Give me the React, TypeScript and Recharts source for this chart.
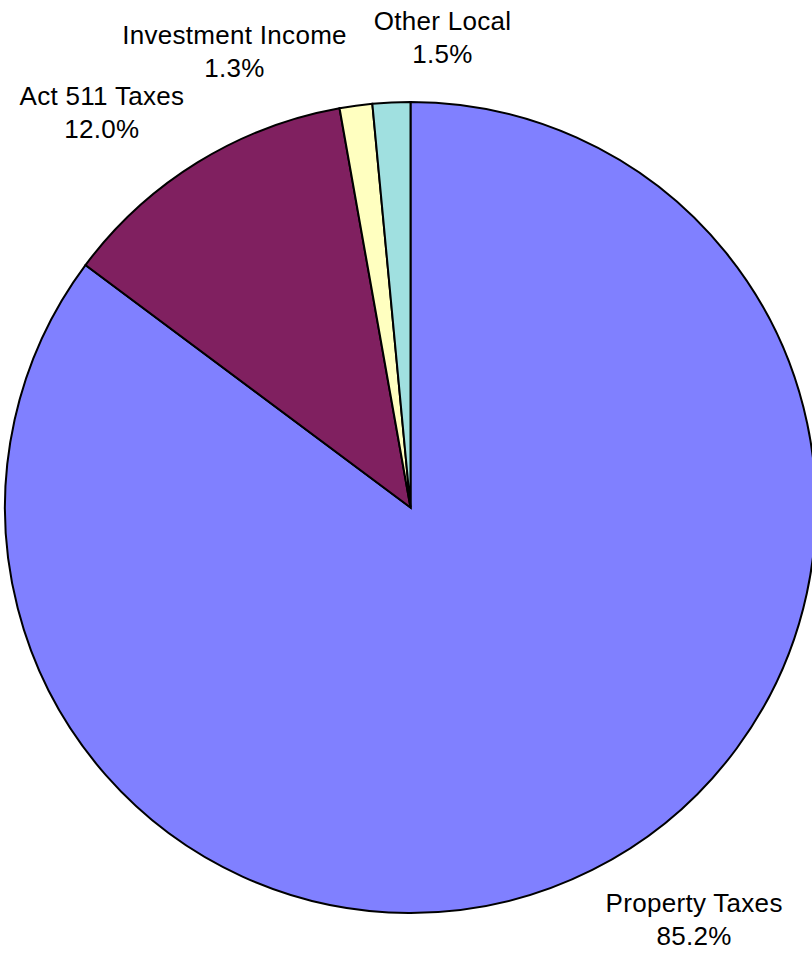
import { PieChart, Pie, Cell } from "recharts";

const sources = ["Property Taxes", "Act 511 Taxes", "Investment Income", "Other Local"];
const shares = [85.2, 12.0, 1.3, 1.5];
const colors = ["#8080ff", "#802060", "#ffffc0", "#a0e0e0"];

// Excel shifted the labels of the two thin slices so they clear each other
const labelNudge: Record<string, [number, number]> = {
  "Investment Income": [4, -4],
  "Other Local": [133, -15],
};

const data = sources.map((name, i) => ({ name, value: shares[i] }));

const FONT = "26px 'Liberation Sans', Arial, sans-serif";
const SPACING = 0.3;
const LINE = 33;

let ctx: CanvasRenderingContext2D | null = null;
function textWidth(s: string) {
  if (!ctx) ctx = document.createElement("canvas").getContext("2d");
  if (!ctx) return s.length * 14;
  ctx.font = FONT;
  return ctx.measureText(s).width + s.length * SPACING;
}

function SliceLabel(props: any) {
  const { cx, cy, midAngle, outerRadius, name, value } = props;
  const rad = (Math.PI / 180) * midAngle;
  const cos = Math.cos(rad);
  const sin = -Math.sin(rad);
  const pct = `${Number(value).toFixed(1)}%`;
  const w = Math.max(textWidth(name), textWidth(pct));
  const ex = cx + outerRadius * cos;
  const ey = cy + outerRadius * sin;
  const nudge = labelNudge[name] || [0, 0];
  const x = ex + Math.sign(cos) * (w / 2 + 13) + nudge[0];
  const y = ey + Math.sign(sin) * (LINE + 17) + nudge[1];
  return (
    <text x={x} y={y} textAnchor="middle" fill="#000"
      style={{ font: FONT, letterSpacing: SPACING }}>
      <tspan x={x} y={y - LINE / 2} dominantBaseline="central">{name}</tspan>
      <tspan x={x} y={y + LINE / 2} dominantBaseline="central">{pct}</tspan>
    </text>
  );
}

export default function App() {
  return (
    <div style={{ position: "fixed", top: 0, left: 0, width: 812, height: 953, background: "#fff", overflow: "hidden" }}>
      <PieChart width={812} height={953} margin={{ top: 0, right: 0, bottom: 0, left: 0 }}>
        <Pie data={data} dataKey="value" nameKey="name" cx={410.5} cy={507.5}
          innerRadius={0} outerRadius={405.5} startAngle={90} endAngle={-270}
          stroke="#000" strokeWidth={2} label={SliceLabel} labelLine={false}
          isAnimationActive={false}>
          {data.map((d, i) => (
            <Cell key={d.name} fill={colors[i]} />
          ))}
        </Pie>
      </PieChart>
    </div>
  );
}
